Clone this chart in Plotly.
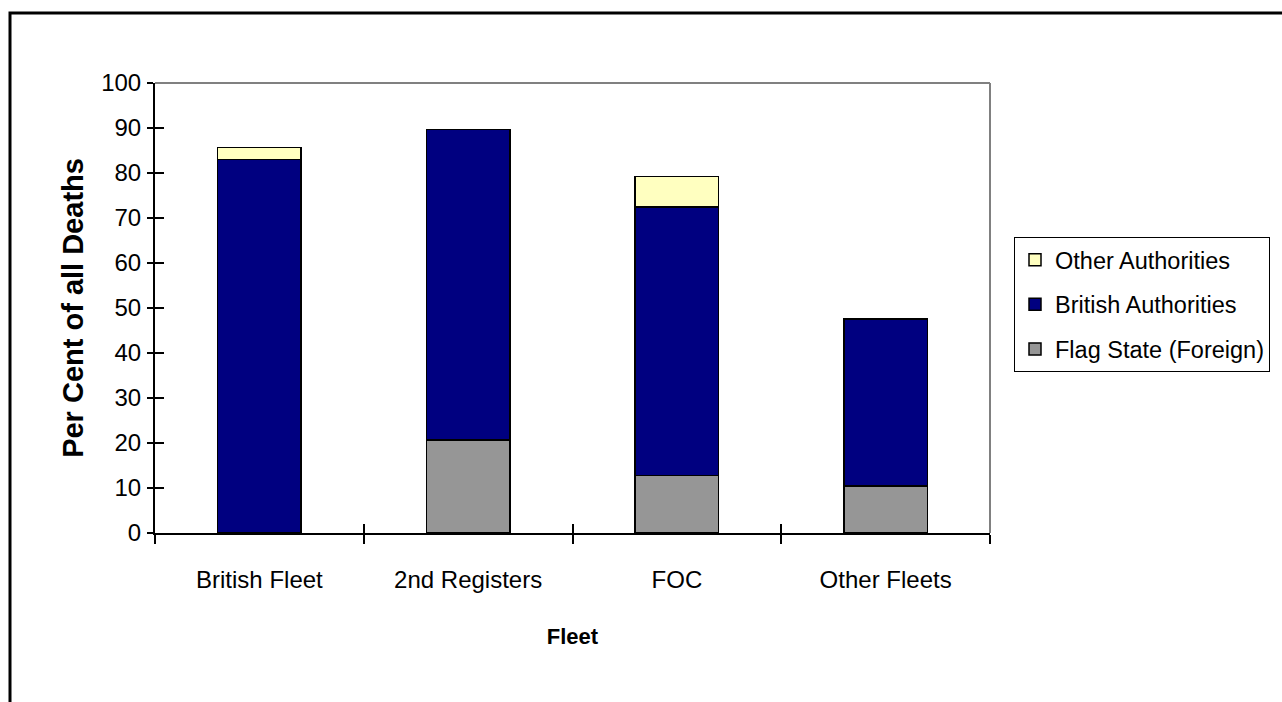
import plotly.graph_objects as go

categories = ["British Fleet", "2nd Registers", "FOC", "Other Fleets"]
flag_state = [0, 20.7, 12.8, 10.5]
british_auth = [83.0, 69.0, 59.6, 37.1]
other_auth = [2.7, 0, 6.8, 0]

y_ticks = list(range(0, 101, 10))

FONT = "Liberation Sans, Arial, sans-serif"
L, R, T, B = 155, 292, 83, 169
W, H = 1282, 702
PW, PH = W - L - R, H - T - B

fig = go.Figure()
series = [
    ("Flag State (Foreign)", flag_state, "#969696", 3),
    ("British Authorities", british_auth, "#000080", 2),
    ("Other Authorities", other_auth, "#FFFFC0", 1),
]
for name, vals, col, rank in series:
    fig.add_trace(go.Bar(
        x=categories, y=vals, name=name, legendgroup=name, legendrank=rank,
        marker=dict(color=col, line=dict(color="black", width=1.5)),
    ))
# empty trace carrying the inner-tick overlay axes
fig.add_trace(go.Scatter(x=[], y=[], xaxis="x2", yaxis="y2", showlegend=False, hoverinfo="skip"))

fig.update_layout(
    width=W, height=H,
    margin=dict(l=L, r=R, t=T, b=B, autoexpand=False),
    paper_bgcolor="white", plot_bgcolor="white",
    barmode="stack", bargap=0.6,
    font=dict(family=FONT, size=24, color="black"),
    xaxis=dict(
        type="category", categoryorder="array", categoryarray=categories,
        tickson="boundaries", ticks="outside", ticklen=9, tickwidth=1.5, tickcolor="black",
        showline=True, linecolor="black", linewidth=2, showgrid=False, zeroline=False,
        tickfont=dict(size=24), ticklabelstandoff=24,
        title=dict(text="<b>Fleet</b>", font=dict(size=22), standoff=37),
    ),
    yaxis=dict(
        range=[0, 100], tickvals=y_ticks, ticks="outside", ticklen=6, tickwidth=1.5, tickcolor="black",
        showline=True, linecolor="black", linewidth=2, showgrid=False, zeroline=False,
        tickfont=dict(size=24), ticklabelstandoff=1,
        title=dict(text="<b>Per Cent of all Deaths</b>", font=dict(size=29), standoff=9),
    ),
    xaxis2=dict(
        overlaying="x", anchor="y2", side="bottom", range=[0, 4], dtick=1,
        ticks="inside", ticklen=9, tickwidth=1.5, tickcolor="black",
        showticklabels=False, showline=False, showgrid=False, zeroline=False,
    ),
    yaxis2=dict(
        overlaying="y", anchor="x2", side="left", range=[0, 100], dtick=10,
        ticks="inside", ticklen=9, tickwidth=1.5, tickcolor="black",
        showticklabels=False, showline=False, showgrid=False, zeroline=False,
    ),
    legend=dict(
        x=(1014 - L) / PW, xanchor="left", y=(H - B - 237) / PH, yanchor="top",
        bordercolor="black", borderwidth=1, bgcolor="white",
        traceorder="grouped", tracegroupgap=11,
        font=dict(size=23.5),
    ),
    shapes=[
        dict(type="line", xref="paper", yref="paper", x0=0, x1=1, y0=1, y1=1,
             line=dict(color="#808080", width=2)),
        dict(type="line", xref="paper", yref="paper", x0=1, x1=1, y0=0, y1=1,
             line=dict(color="#808080", width=2)),
        dict(type="rect", xref="paper", yref="paper",
             x0=(10 - L) / PW, x1=(W + 50 - L) / PW,
             y0=(H - B - (H + 50)) / PH, y1=(H - B - 13) / PH,
             line=dict(color="black", width=3), layer="above"),
    ],
)

fig.write_html("out.html")
